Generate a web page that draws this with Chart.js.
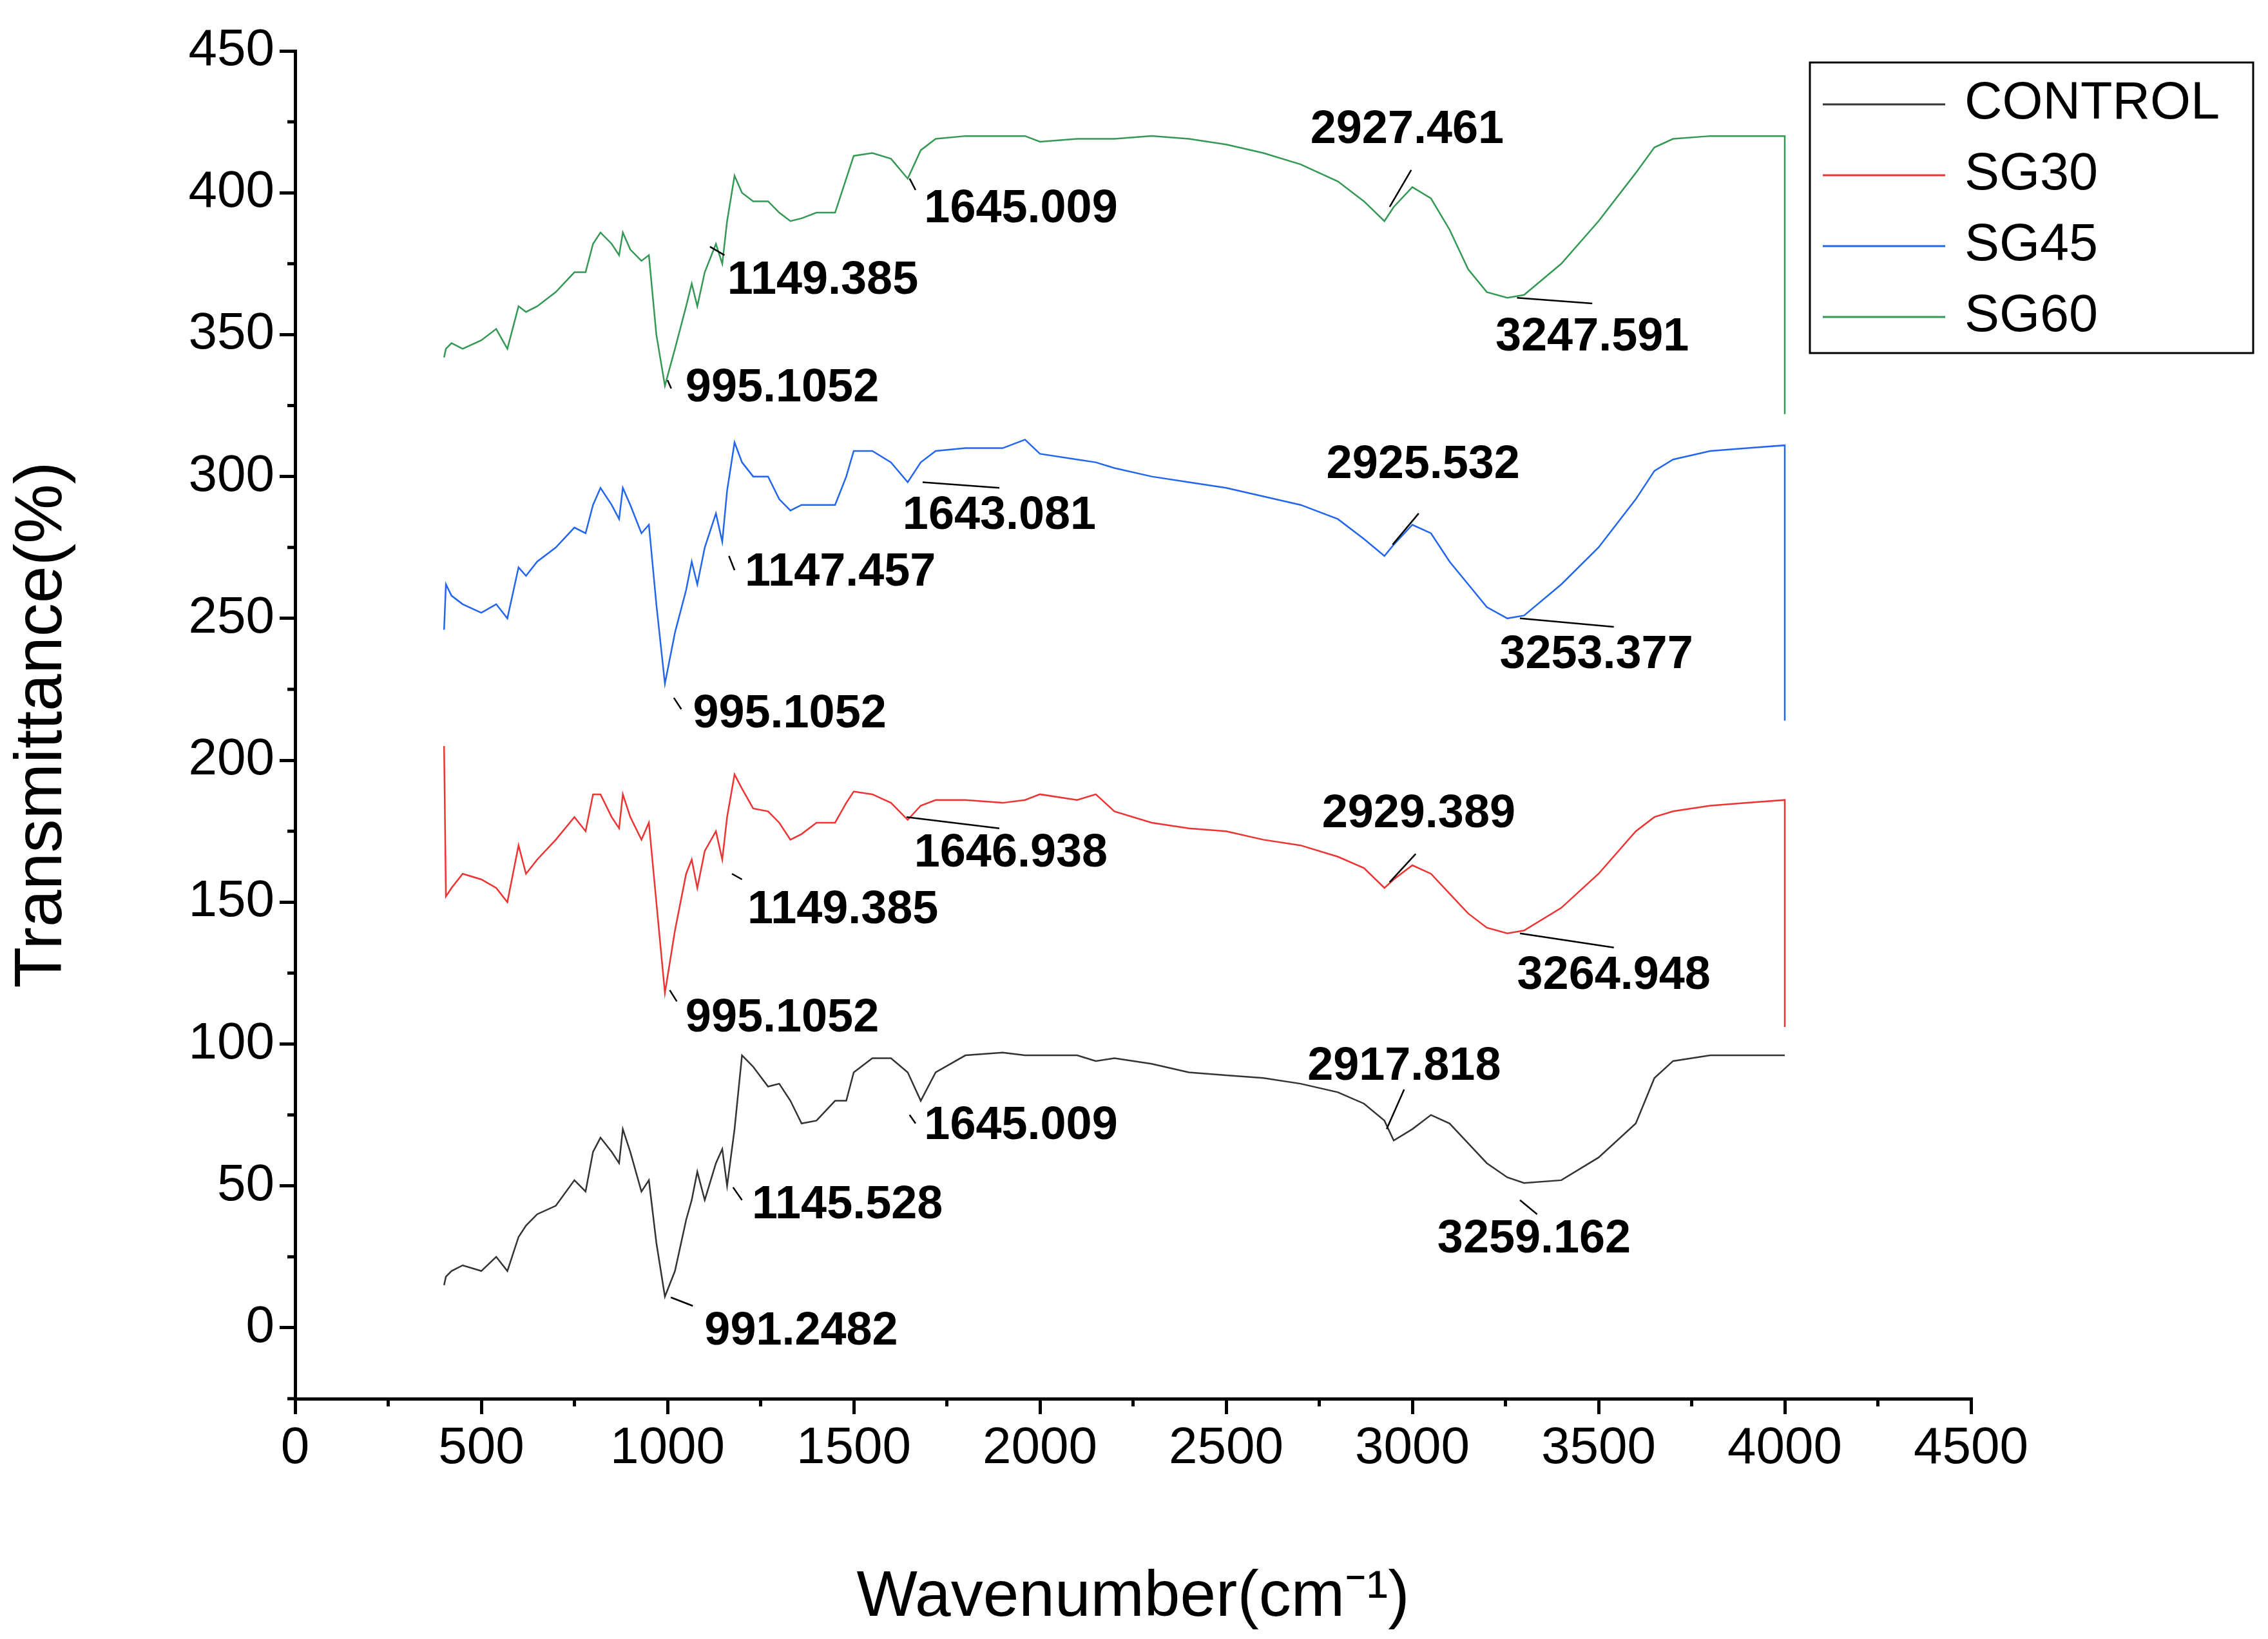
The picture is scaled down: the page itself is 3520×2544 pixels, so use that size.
<!DOCTYPE html>
<html><head><meta charset="utf-8">
<script src="https://cdn.jsdelivr.net/npm/chart.js@4/dist/chart.umd.min.js"></script>
<style>html,body{margin:0;padding:0;background:#fff}#c{display:block}</style>
</head><body>
<canvas id="c" width="3520" height="2544"></canvas>
<script>
const wavenumber=[400,405,420,450,500,540,570,600,620,650,700,750,780,800,820,850,870,880,900,930,950,970,993,1020,1050,1065,1080,1100,1130,1147,1160,1180,1200,1230,1270,1300,1330,1360,1400,1450,1480,1500,1550,1600,1645,1680,1720,1800,1900,1960,2000,2100,2150,2200,2300,2400,2500,2600,2700,2800,2870,2925,2950,3000,3050,3100,3150,3200,3255,3300,3400,3500,3600,3650,3700,3800,3900,4000,4000];
const control=[15,18,20,22,20,25,20,32,36,40,43,52,48,62,67,62,58,70,62,48,52,30,11,20,38,45,55,45,58,63,50,70,96,92,85,86,80,72,73,80,80,90,95,95,90,80,90,96,97,96,96,96,94,95,93,90,89,88,86,83,79,73,66,70,75,72,65,58,53,51,52,60,72,88,94,96,96,96,96,0];
const sg30=[205,152,155,160,158,155,150,170,160,165,172,180,175,188,188,180,176,188,180,172,178,150,118,140,160,165,155,168,175,165,180,195,190,183,182,178,172,174,178,178,185,189,188,185,179,184,186,186,185,186,188,186,188,182,178,176,175,172,170,166,162,155,158,163,160,153,146,141,139,140,148,160,175,180,182,184,185,186,106];
const sg45=[246,262,258,255,252,255,250,268,265,270,275,282,280,290,296,290,285,296,290,280,283,255,227,245,260,270,262,275,287,277,295,312,305,300,300,292,288,290,290,290,300,309,309,305,298,305,309,310,310,313,308,306,305,303,300,298,296,293,290,285,278,272,276,283,280,270,262,254,250,251,262,275,292,302,306,309,310,311,214];
const sg60=[342,345,347,345,348,352,345,360,358,360,365,372,372,382,386,382,378,386,380,376,378,350,332,345,360,368,360,372,382,375,390,406,400,397,397,393,390,391,393,393,405,413,414,412,405,415,419,420,420,420,418,419,419,419,420,419,417,414,410,404,397,390,395,402,398,387,373,365,363,364,375,390,407,416,419,420,420,420,322];
const seriesNames=['CONTROL','SG30','SG45','SG60'];
const seriesColors=['#333333','#ee3333','#2266ee','#339955'];
const xTicks=[0,500,1000,1500,2000,2500,3000,3500,4000,4500];
const yTicks=[0,50,100,150,200,250,300,350,400,450];
// [text, lineFromX, lineFromY, lineToX, lineToY, textX, textY]
const peakLabels=[
['991.2482',1009,10.7,1068,7.7,1359,-1.5],
['1145.528',1176,49.5,1200,45,1483,43],
['1645.009',1650,75,1666,72,1949,71],
['2917.818',2931,70,2978,84,2978,92],
['3259.162',3289,45,3335,40,3327,31],
['995.1052',1006,119,1025,115,1308,109],
['1149.385',1173,160,1200,158,1471,147],
['1646.938',1642,180,1891,176,1922,167],
['2929.389',2939,157,3009,167,3017,181],
['3264.948',3289,139,3541,134,3541,124],
['995.1052',1017,222,1037,218,1328,216],
['1147.457',1165,272,1180,267,1464,266],
['1643.081',1685,298,1891,296,1891,286],
['2925.532',2947,276,3017,287,3029,304],
['3253.377',3289,250,3541,247,3494,237],
['995.1052',1000,334,1010,331,1308,331],
['1149.385',1114,381,1153,378,1417,369],
['1645.009',1650,405,1666,401,1949,394],
['2927.461',2939,395,2997,408,2986,422],
['3247.591',3281,363,3483,361,3483,349]];
const allSeries=[control,sg30,sg45,sg60];
const FONT='"Liberation Sans", Arial, sans-serif';
const datasets=allSeries.map((s,i)=>({label:seriesNames[i],data:s.map((v,j)=>({x:wavenumber[j],y:v})),borderColor:seriesColors[i],borderWidth:2.5,pointRadius:0,tension:0,fill:false}));
const extras={id:'extras',afterDraw(ch){
 const c=ch.ctx,xs=ch.scales.x,ys=ch.scales.y;
 c.save();
 c.strokeStyle='#000';c.lineWidth=5;
 for(let v=250;v<4500;v+=500){const px=xs.getPixelForValue(v);c.beginPath();c.moveTo(px,ys.bottom);c.lineTo(px,ys.bottom+12);c.stroke();}
 for(let v=-25;v<450;v+=50){const py=ys.getPixelForValue(v);c.beginPath();c.moveTo(xs.left,py);c.lineTo(xs.left-12,py);c.stroke();}
 c.lineWidth=2.5;c.fillStyle='#000';c.font='bold 72px '+FONT;c.textAlign='center';c.textBaseline='middle';
 peakLabels.forEach(a=>{c.beginPath();c.moveTo(xs.getPixelForValue(a[1]),ys.getPixelForValue(a[2]));c.lineTo(xs.getPixelForValue(a[3]),ys.getPixelForValue(a[4]));c.stroke();
  c.fillText(a[0],xs.getPixelForValue(a[5]),ys.getPixelForValue(a[6]));});
 const lx=2809,ly=97,lw=688,lh=451;
 c.strokeStyle='#000';c.lineWidth=3;c.strokeRect(lx,ly,lw,lh);
 c.font='81px '+FONT;c.textAlign='left';
 seriesNames.forEach((n,i)=>{const y=ly+65+i*110;c.strokeStyle=seriesColors[i];c.lineWidth=3;c.beginPath();c.moveTo(lx+20,y);c.lineTo(lx+210,y);c.stroke();c.fillStyle='#000';c.fillText(n,lx+240,y);});
 c.restore();
}};
new Chart(document.getElementById('c'),{type:'line',data:{datasets},plugins:[extras],
options:{responsive:false,animation:false,devicePixelRatio:1,
layout:{padding:{top:79,right:461,left:0,bottom:0}},
plugins:{legend:{display:false},tooltip:{enabled:false}},
scales:{
x:{type:'linear',min:0,max:4500,afterBuildTicks:s=>{s.ticks=xTicks.map(v=>({value:v}));},afterFit:s=>{s.height=373;},
 grid:{drawOnChartArea:false,drawTicks:true,tickLength:24,color:'#000',lineWidth:5},border:{color:'#000',width:5},
 ticks:{color:'#000',font:{size:80,family:FONT},padding:6,maxRotation:0,callback:v=>String(v)},
 title:{display:true,text:'Wavenumber(cm\u207B\u00B9)',color:'#000',font:{size:100,family:FONT},padding:{top:40}}},
y:{type:'linear',min:-25,max:450,afterBuildTicks:s=>{s.ticks=yTicks.map(v=>({value:v}));},afterFit:s=>{s.width=458;},
 grid:{drawOnChartArea:false,drawTicks:true,tickLength:24,color:'#000',lineWidth:5},border:{color:'#000',width:5},
 ticks:{color:'#000',font:{size:80,family:FONT},padding:8,callback:v=>String(v)},
 title:{display:true,text:'Transmittance(%)',color:'#000',font:{size:104,family:FONT},padding:{bottom:20}}}
}}});
</script></body></html>
